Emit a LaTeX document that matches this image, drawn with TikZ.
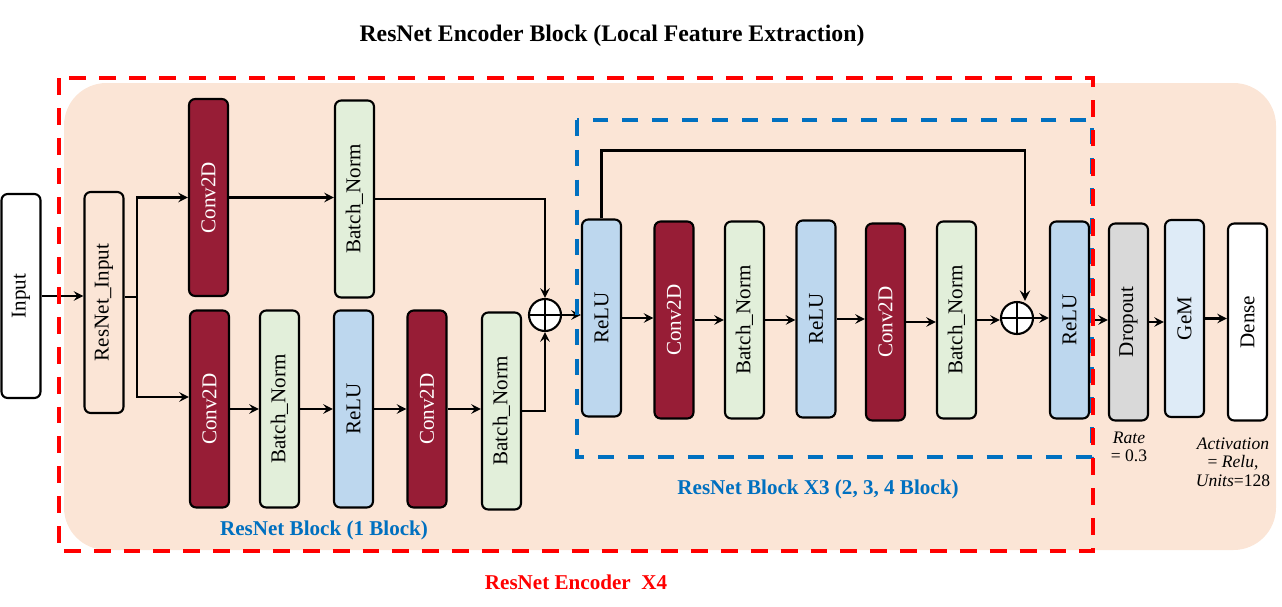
\documentclass[tikz,border=0pt]{standalone}
\usepackage{fontspec}
\setmainfont{Liberation Serif}
\definecolor{convred}{HTML}{971D36}
\definecolor{normgreen}{HTML}{E2EFDA}
\definecolor{relublue}{HTML}{BDD7EE}
\definecolor{dropgray}{HTML}{D9D9D9}
\definecolor{gemblue}{HTML}{DEEBF7}
\definecolor{beige}{HTML}{FBE5D6}
\definecolor{dashblue}{HTML}{0070C0}
\begin{document}
\begin{tikzpicture}[x=0.02cm, y=-0.02cm, >=stealth,
		layer/.style={draw, line width=1.2pt, rounded corners=3.5pt, minimum width=0.78cm, minimum height=3.94cm, inner sep=0pt, font=\fontsize{12}{14}\selectfont},
		convbox/.style={layer, fill=convred, text=white},
		normbox/.style={layer, fill=normgreen},
		relubox/.style={layer, fill=relublue},
		addnode/.style={draw, circle, line width=1.2pt, fill=white, minimum size=0.64cm, inner sep=0pt},
		flow/.style={->, line width=1.4pt}]
				\useasboundingbox (0,0) rectangle (1282,606);
				\fill[beige, rounded corners=0.85cm] (64,83) rectangle (1276,550);
				% input side
				\node[layer, minimum height=4.08cm] (in) at (21,296) {\rotatebox{90}{Input}};
				\node[layer, minimum height=4.42cm] (ri) at (104,302.5) {\rotatebox{90}{ResNet\_Input}};
				% first block
				\node[convbox] (c1) at (208.5,197.5) {\rotatebox{90}{Conv2D}};
				\node[normbox] (n1) at (354.5,199) {\rotatebox{90}{Batch\_Norm}};
				\node[convbox] (c2) at (209.5,409) {\rotatebox{90}{Conv2D}};
				\node[normbox] (n2) at (279.5,409) {\rotatebox{90}{Batch\_Norm}};
				\node[relubox] (r2) at (353.5,409) {\rotatebox{90}{ReLU}};
				\node[convbox] (c3) at (427,409) {\rotatebox{90}{Conv2D}};
				\node[normbox] (n3) at (501.5,411) {\rotatebox{90}{Batch\_Norm}};
				\node[addnode] (a1) at (545,315) {};
				% blocks 2, 3, 4
				\node[relubox] (r3) at (601.5,318) {\rotatebox{90}{ReLU}};
				\node[convbox] (c4) at (674,320) {\rotatebox{90}{Conv2D}};
				\node[normbox] (n4) at (744.5,320) {\rotatebox{90}{Batch\_Norm}};
				\node[relubox] (r4) at (816,319) {\rotatebox{90}{ReLU}};
				\node[convbox] (c5) at (885.5,322) {\rotatebox{90}{Conv2D}};
				\node[normbox] (n5) at (956.5,320) {\rotatebox{90}{Batch\_Norm}};
				\node[addnode] (a2) at (1017,318) {};
				\node[relubox] (r5) at (1069.5,320) {\rotatebox{90}{ReLU}};
				% head
				\node[layer, fill=dropgray] (d1) at (1128.5,322) {\rotatebox{90}{Dropout}};
				\node[layer, fill=gemblue] (g1) at (1184.5,318.5) {\rotatebox{90}{GeM}};
				\node[layer, fill=white] (o1) at (1247.5,322) {\rotatebox{90}{Dense}};
				\foreach \a in {a1,a2} {
					\draw[line width=1.2pt] (\a.north) -- (\a.south) (\a.west) -- (\a.east);
				}
				% connectors
				\draw[flow] (in.east) -- (in.east -| ri.west);
				\coordinate (sp) at (137,297);
				\draw[line width=1.4pt] (ri.east |- sp) -- (sp);
				\draw[flow] (sp) |- (c1.west);
				\draw[flow] (sp) |- ([yshift=0.24cm]c2.west);
				\draw[flow] (c1.east) -- (c1.east -| n1.west);
				\draw[flow] (n1.east) -| (a1.north);
				\draw[flow] (n3.east) -| (a1.south);
				\draw[flow] (a1.east) -- (a1.east -| r3.west);
				\foreach \a/\b in {c2/n2, n2/r2, r2/c3, c3/n3, r3/c4, c4/n4, n4/r4, r4/c5, c5/n5, n5/a2, a2/r5, r5/d1, d1/g1, g1/o1} {
					\draw[flow] (\a.east) -- (\a.east -| \b.west);
				}
				\draw[flow, line width=1.6pt] (r3.north) -- ++(0,-68) -| ([xshift=0.16cm]a2.north);
				% dashed frames
				\draw[dashblue, line width=2pt, dash pattern=on 9pt off 8pt] (577,120) rectangle (1092,457);
				\draw[red, line width=2.3pt, dash pattern=on 9.6pt off 7.4pt] (59,78) rectangle (1093,551);
				% labels
				\node[font=\fontsize{13.5}{16}\selectfont\bfseries] (title) at (612,36) {ResNet Encoder Block (Local Feature Extraction)};
				\node[font=\fontsize{12}{14}\selectfont\bfseries, text=dashblue] (lb1) at (324,530) {ResNet Block (1 Block)};
				\node[font=\fontsize{12}{14}\selectfont\bfseries, text=dashblue] (lb2) at (818,489) {ResNet Block X3 (2, 3, 4 Block)};
				\node[font=\fontsize{12}{14}\selectfont\bfseries, text=red] (lb3) at (576,582) {ResNet Encoder\ \ X4};
				\node[font=\fontsize{10}{10.4}\selectfont, align=center] (rate) at (1129,447) {\textit{Rate}\\= 0.3};
				\node[font=\fontsize{10}{10.4}\selectfont, align=center] (act) at (1233,462) {\textit{Activation}\\= \textit{Relu},\\\textit{Units}=128};
		\end{tikzpicture}
\end{document}
